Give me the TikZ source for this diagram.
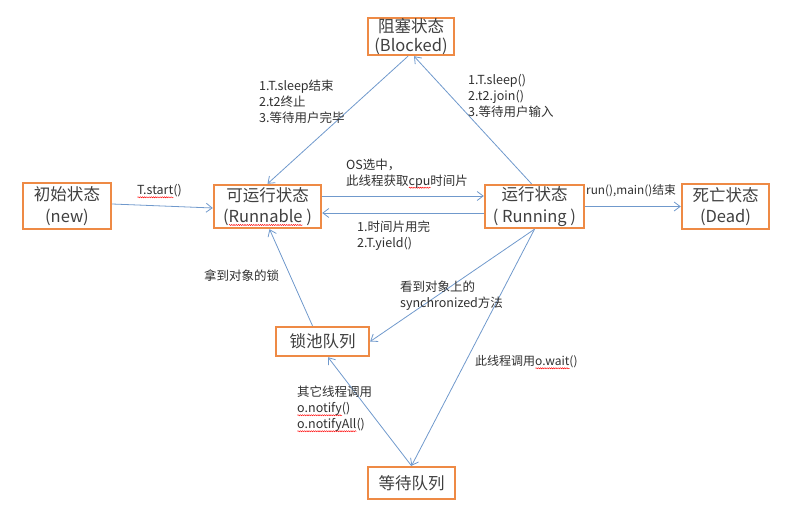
\documentclass[tikz,border=0pt]{standalone}
\usepackage{fontspec}
\setmainfont{Noto Sans CJK SC}
\usetikzlibrary{arrows.meta,decorations.pathmorphing}
\definecolor{boxorange}{HTML}{EE8A45}
\definecolor{lineblue}{HTML}{7099CC}
\definecolor{boxtext}{HTML}{404040}
\definecolor{labeltext}{HTML}{303030}
\newcommand\sq[1]{\setbox0=\hbox{#1}\rlap{\raisebox{-2.4pt}[0pt][0pt]{\tikz[x=1pt,y=1pt,baseline=0pt]\draw[draw=red,line width=0.45pt,decorate,decoration={snake,segment length=2.2pt,amplitude=0.55pt}] (0,0) -- (\wd0,0);}}\box0}
\begin{document}
\begin{tikzpicture}[x=1pt,y=-1pt,
  state/.style={draw=boxorange,line width=2.4pt,fill=white,text=boxtext,font=\fontsize{16.5}{21.5}\selectfont,align=center,inner sep=0pt},
  conn/.style={draw=lineblue,line width=0.8pt,-{Straight Barb[length=6pt,width=9pt,line width=0.8pt]}},
  lbl/.style={text=labeltext,font=\fontsize{12.5}{16}\selectfont,align=left,inner sep=0pt,anchor=west}]
\useasboundingbox (0,0) rectangle (790,519);
% states
\node[state,minimum width=88pt,minimum height=46pt] (new) at (67,206) {初始状态\\(new)};
\node[state,minimum width=107pt,minimum height=43pt] (rb) at (267.5,206.5) {可运行状态\\(\sq{Runnable}\ )};
\node[state,minimum width=99pt,minimum height=43pt] (rn) at (534.5,206.5) {运行状态\\( Running )};
\node[state,minimum width=87pt,minimum height=45pt] (dead) at (725.5,206.5) {死亡状态\\(Dead)};
\node[state,minimum width=86pt,minimum height=37pt,font=\fontsize{16.5}{19.5}\selectfont] (bl) at (411,36.5) {阻塞状态\\(Blocked)};
\node[state,minimum width=93pt,minimum height=29pt] (lp) at (322.5,341.5) {锁池队列};
\node[state,minimum width=87pt,minimum height=32pt] (wq) at (411.5,483) {等待队列};
% connectors
\draw[conn] ([yshift=2pt]new.east) -- ([yshift=-1.5pt]rb.west);
\draw[conn] ([yshift=10.5pt]rb.east) -- ([yshift=10.5pt]rn.west);
\draw[conn] ([yshift=-6.5pt]rn.west) -- ([yshift=-6.5pt]rb.east);
\draw[conn] (rn.east) -- (dead.west);
\draw[conn] ([xshift=-3pt]bl.south) -- (rb.north);
\draw[conn] ([xshift=-3pt]rn.north) -- ([xshift=3pt]bl.south);
\draw[conn] ([xshift=-10pt]lp.north) -- ([xshift=2pt]rb.south);
\draw[conn] (rn.south) -- (lp.east);
\draw[conn] (rn.south) -- (wq.north);
\draw[conn] (wq.north) -- ([xshift=5.5pt]lp.south);
% labels
\node[lbl] (lstart) at (137,191) {\sq{T.start}()};
\node[lbl] (los) at (346,173.5) {OS选中，\\此线程获取\sq{cpu}时间片};
\node[lbl,font=\fontsize{12.5}{15.5}\selectfont] (lyield) at (357,235.5) {1.时间片用完\\2.T.yield()};
\node[lbl,font=\fontsize{11.8}{15}\selectfont] (ldead) at (586,191) {run(),main()结束};
\node[lbl] (lblk1) at (259,102) {1.T.sleep结束\\2.t2终止\\3.等待用户完毕};
\node[lbl] (lblk2) at (468,96) {1.T.sleep()\\2.t2.join()\\3.等待用户输入};
\node[lbl] (llock) at (204,276) {拿到对象的锁};
\node[lbl] (lsync) at (400,295.5) {看到对象上的\\synchronized方法};
\node[lbl,font=\fontsize{12}{15}\selectfont] (lwait) at (475,362) {此线程调用\sq{o.wait}()};
\node[lbl] (lnotify) at (297,409) {其它线程调用\\\sq{o.notify}()\\\sq{o.notifyAll}()};
\end{tikzpicture}
\end{document}
